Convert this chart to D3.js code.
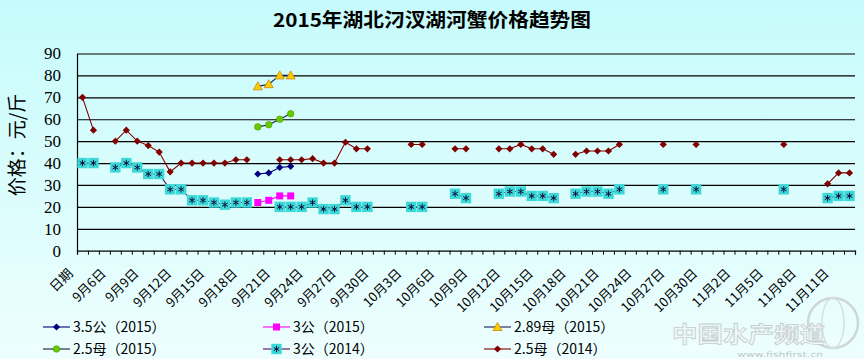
<!DOCTYPE html>
<html><head><meta charset="utf-8">
<script src="https://cdn.jsdelivr.net/npm/d3@7/dist/d3.min.js"></script>
<style>body{margin:0;padding:0;overflow:hidden;}svg{display:block;}</style>
</head><body>
<script>
// ---------- DATA ----------
const categories = ["日期",
 "9月4日","9月5日","9月6日","9月7日","9月8日","9月9日","9月10日","9月11日","9月12日","9月13日","9月14日","9月15日","9月16日","9月17日","9月18日","9月19日","9月20日","9月21日","9月22日","9月23日","9月24日","9月25日","9月26日","9月27日","9月28日","9月29日","9月30日",
 "10月1日","10月2日","10月3日","10月4日","10月5日","10月6日","10月7日","10月8日","10月9日","10月10日","10月11日","10月12日","10月13日","10月14日","10月15日","10月16日","10月17日","10月18日","10月19日","10月20日","10月21日","10月22日","10月23日","10月24日","10月25日","10月26日","10月27日","10月28日","10月29日","10月30日","10月31日",
 "11月1日","11月2日","11月3日","11月4日","11月5日","11月6日","11月7日","11月8日","11月9日","11月10日","11月11日","11月12日"];
const tickLabels = ["日期","9月6日","9月9日","9月12日","9月15日","9月18日","9月21日","9月24日","9月27日","9月30日","10月3日","10月6日","10月9日","10月12日","10月15日","10月18日","10月21日","10月24日","10月27日","10月30日","11月2日","11月5日","11月8日","11月11日"];
const yTicks = [0,10,20,30,40,50,60,70,80,90];
const _ = null;
const female25_2014 = [70,55,_,50,55,50,48,45,36,40,40,40,40,40,41.5,41.5,_,_,41.5,41.5,41.5,42,40,40,49.5,46.5,46.5,_,_,_,48.5,48.5,_,_,46.5,46.5,_,_,46.5,46.5,48.5,46.5,46.5,44,_,44,45.5,45.5,45.5,48.5,_,_,_,48.5,_,_,48.5,_,_,_,_,_,_,_,48.5,_,_,_,30.5,35.5,35.5];
const male3_2014    = [40,40,_,38,40,38,35,35,28,28,23,23,22,21,22,22,_,_,20,20,20,22,19,19,23,20,20,_,_,_,20,20,_,_,26,24,_,_,26,27,27,25,25,24,_,26,27,27,26,28,_,_,_,28,_,_,28,_,_,_,_,_,_,_,28,_,_,_,24,25,25];
const start2015 = 16; // first category index of the 2015 series (9月19日)
const male35_2015   = [35,35.5,38,38.5];
const male3_2015    = [22,23,25,25];
const female289_2015= [75,76,80,80];
const female25_2015 = [56.5,57.5,60,62.5];

// ---------- LAYOUT ----------
const W = 864, H = 359;
const L = 77, R = 855, T = 53.5, B = 250.7;
const svg = d3.select("body").append("svg").attr("width", W).attr("height", H);
const defs = svg.append("defs");
const grad = defs.append("linearGradient").attr("id","bg").attr("x1",0).attr("y1",0).attr("x2",0).attr("y2",1);
grad.append("stop").attr("offset","0%").attr("stop-color","#c6fbfb");
grad.append("stop").attr("offset","100%").attr("stop-color","#eefefe");
svg.append("rect").attr("width",W).attr("height",H).attr("fill","url(#bg)");

const x = d3.scaleBand().domain(d3.range(categories.length)).range([L, R]);
const bw = x.bandwidth();
const cx = i => x(i) + bw/2;
const y = d3.scaleLinear().domain([0,90]).range([B, T]);
const xb = d3.scaleLinear().domain([0, categories.length]).range([L, R]);

const cjk = "'Noto Sans CJK SC','Noto Sans',sans-serif";

// title
svg.append("text").attr("x", 432).attr("y", 27).attr("text-anchor","middle")
  .attr("font-family", cjk).attr("font-weight","bold").attr("font-size", 19)
  .attr("textLength", 318).attr("lengthAdjust","spacingAndGlyphs")
  .text("2015年湖北汈汊湖河蟹价格趋势图");

// gridlines
const grid = svg.append("g").attr("transform",`translate(${L},0)`)
  .call(d3.axisLeft(y).tickValues(yTicks.slice(1)).tickSize(-(R-L)).tickFormat(""));
grid.select(".domain").remove();
grid.selectAll("line").attr("stroke","#000").attr("stroke-width",1.2);

// y axis
const yAx = svg.append("g").attr("transform",`translate(${L},0)`)
  .call(d3.axisLeft(y).tickValues(yTicks).tickSize(0).tickPadding(16));
yAx.select(".domain").attr("stroke","#000").attr("stroke-width",1.2);
yAx.selectAll("text").attr("font-family","'Liberation Serif','Times New Roman',serif").attr("font-size",17).attr("fill","#000");

// x axis (ticks between categories)
const xAx = svg.append("g").attr("transform",`translate(0,${B})`)
  .call(d3.axisBottom(xb).tickValues(d3.range(1, categories.length+1)).tickSize(4).tickFormat(""));
xAx.select(".domain").attr("stroke","#000").attr("stroke-width",1.2);
xAx.selectAll("line").attr("stroke","#000");

// x labels
svg.append("g").selectAll("text").data(tickLabels).join("text")
  .attr("transform", d => `translate(${cx(categories.indexOf(d)) - 12},${271}) rotate(-45)`)
  .attr("text-anchor","end").attr("dy","0.35em")
  .attr("font-family", cjk).attr("font-size", 13).attr("fill","#000")
  .text(d => d);

// y label
svg.append("text").attr("transform","translate(24,145) rotate(-90)").attr("text-anchor","middle")
  .attr("font-family", cjk).attr("font-size", 19).attr("fill","#000").text("价格：元/斤");

// ---------- SERIES ----------
function diamond(g, s, fill){ g.append("path").attr("d",`M0,${-s}L${s},0L0,${s}L${-s},0Z`).attr("fill",fill); }
const markers = {
  diamondNavy: g => diamond(g, 3.6, "#000080"),
  diamondRed: g => diamond(g, 3.6, "#800000"),
  diamondGreen: g => { g.append("circle").attr("r",3.3).attr("fill","#66cc00").attr("stroke","#4a9a00").attr("stroke-width",0.6); },
  square: g => { g.append("rect").attr("x",-3.5).attr("y",-3.5).attr("width",7).attr("height",7).attr("fill","#ff00ff"); },
  triangle: g => { g.append("path").attr("d","M0,-4.5L4.5,3.5L-4.5,3.5Z").attr("fill","#ffcc00").attr("stroke","#cc8800").attr("stroke-width",0.8); },
  star: g => {
    g.append("rect").attr("x",-5.2).attr("y",-5.2).attr("width",10.4).attr("height",10.4).attr("fill","#3cd9d9");
    g.append("path").attr("d","M0,-3.2V3.2M-2.8,-1.6L2.8,1.6M-2.8,1.6L2.8,-1.6").attr("stroke","#101040").attr("stroke-width",1);
  }
};

const series = [
  {name:"2.5母（2014）", vals: female25_2014, off:0, line:"#800000", marker:"diamondRed"},
  {name:"3公（2014）", vals: male3_2014, off:0, line:"#4a1060", marker:"star"},
  {name:"3.5公（2015）", vals: male35_2015, off:start2015, line:"#000080", marker:"diamondNavy"},
  {name:"3公（2015）", vals: male3_2015, off:start2015, line:"#ff00ff", marker:"square"},
  {name:"2.89母（2015）", vals: female289_2015, off:start2015, line:"#1a1a60", marker:"triangle"},
  {name:"2.5母（2015）", vals: female25_2015, off:start2015, line:"#1a1a40", marker:"diamondGreen"}
];

const line = d3.line().defined(d => d.v !== null).x(d => cx(d.i)).y(d => y(d.v));
series.forEach(s => {
  const pts = s.vals.map((v,k) => ({i: k + s.off, v}));
  svg.append("path").datum(pts).attr("d", line).attr("fill","none").attr("stroke", s.line).attr("stroke-width",1.1);
  svg.append("g").selectAll("g").data(pts.filter(d => d.v !== null)).join("g")
    .attr("transform", d => `translate(${cx(d.i)},${y(d.v)})`)
    .each(function(){ markers[s.marker](d3.select(this)); });
});

// ---------- LEGEND ----------
const legendOrder = [
  ["3.5公（2015）", 43, 327], ["3公（2015）", 263, 327], ["2.89母（2015）", 484, 327],
  ["2.5母（2015）", 43, 349], ["3公（2014）", 263, 349], ["2.5母（2014）", 484, 349]
];
legendOrder.forEach(([nm, lx, ly]) => {
  const s = series.find(d => d.name === nm);
  const g = svg.append("g").attr("transform",`translate(${lx},${ly})`);
  g.append("line").attr("x1",0).attr("x2",27).attr("stroke", s.line).attr("stroke-width",1.1);
  const m = g.append("g").attr("transform","translate(13.5,0)");
  markers[s.marker](m);
  g.append("text").attr("x",30).attr("dy","0.36em").attr("font-family", cjk).attr("font-size",14).attr("fill","#000").text(nm);
});

// ---------- WATERMARK ----------
const wm = svg.append("g").attr("opacity",0.55);
wm.append("circle").attr("cx",833).attr("cy",323).attr("r",25).attr("fill","none").attr("stroke","#b8b8b8").attr("stroke-width",2.5);
wm.append("ellipse").attr("cx",833).attr("cy",323).attr("rx",11).attr("ry",25).attr("fill","none").attr("stroke","#c8c8c8").attr("stroke-width",1.5);
wm.append("text").attr("x",672).attr("y",342).attr("font-family",cjk).attr("font-size",22).attr("font-weight","bold")
  .attr("fill","#f4f4f4").attr("stroke","#a8a8a8").attr("stroke-width",0.8).attr("textLength",153).attr("lengthAdjust","spacingAndGlyphs").text("中国水产频道");
wm.append("text").attr("x",737).attr("y",357).attr("font-family","'DejaVu Sans',sans-serif").attr("font-size",7.5)
  .attr("fill","#999").attr("textLength",86).attr("lengthAdjust","spacingAndGlyphs").text("www.fishfirst.cn");
</script>
</body></html>
